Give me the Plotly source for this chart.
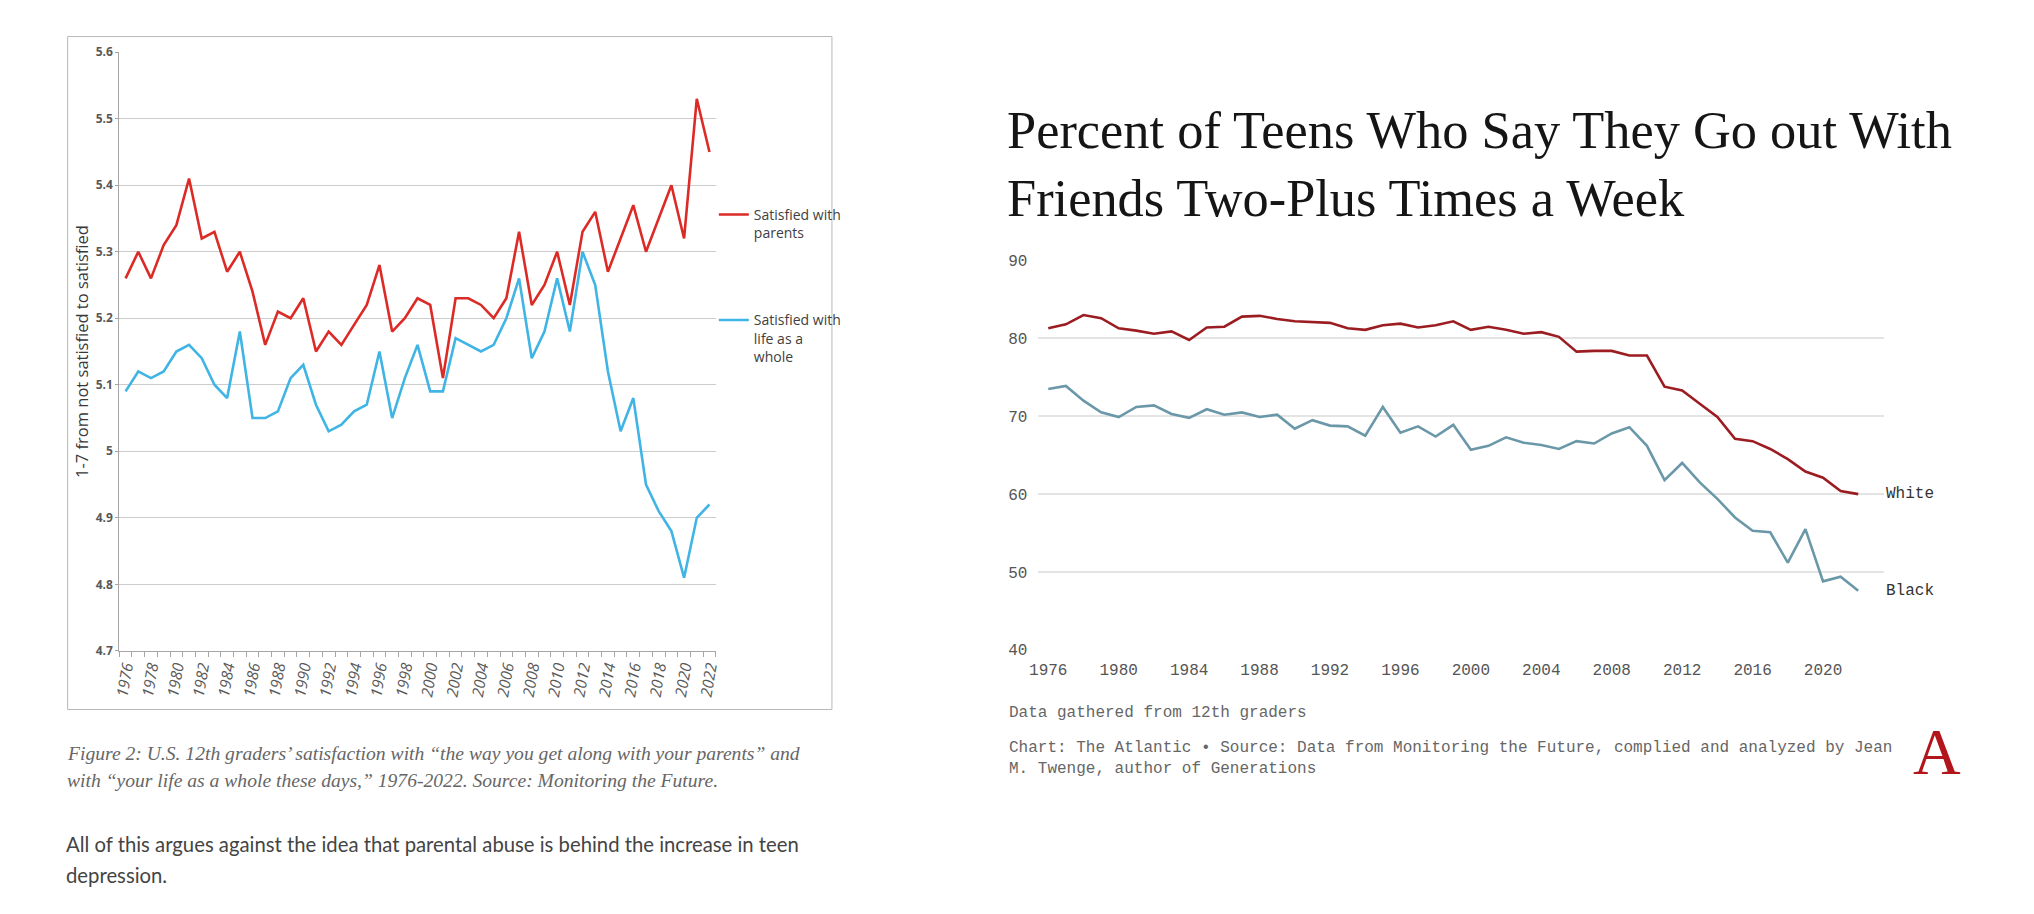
import plotly.graph_objects as go

# left chart: Monitoring the Future satisfaction scores (1-7 scale)
years = list(range(1976, 2023))
satisfied_parents = [
    5.26, 5.30, 5.26, 5.31, 5.34, 5.41, 5.32, 5.33, 5.27, 5.30,
    5.24, 5.16, 5.21, 5.20, 5.23, 5.15, 5.18, 5.16, 5.19, 5.22,
    5.28, 5.18, 5.20, 5.23, 5.22, 5.11, 5.23, 5.23, 5.22, 5.20,
    5.23, 5.33, 5.22, 5.25, 5.30, 5.22, 5.33, 5.36, 5.27, 5.32,
    5.37, 5.30, 5.35, 5.40, 5.32, 5.53, 5.45,
]
satisfied_life = [
    5.09, 5.12, 5.11, 5.12, 5.15, 5.16, 5.14, 5.10, 5.08, 5.18,
    5.05, 5.05, 5.06, 5.11, 5.13, 5.07, 5.03, 5.04, 5.06, 5.07,
    5.15, 5.05, 5.11, 5.16, 5.09, 5.09, 5.17, 5.16, 5.15, 5.16,
    5.20, 5.26, 5.14, 5.18, 5.26, 5.18, 5.30, 5.25, 5.12, 5.03,
    5.08, 4.95, 4.91, 4.88, 4.81, 4.90, 4.92,
]
left_yticks = [4.7, 4.8, 4.9, 5.0, 5.1, 5.2, 5.3, 5.4, 5.5, 5.6]
left_yticktext = ['4.7', '4.8', '4.9', '5', '5.1', '5.2', '5.3', '5.4', '5.5', '5.6']

# right chart: percent going out with friends 2+ times a week
white_pct = [
    81.3, 81.8, 83.0, 82.6, 81.3, 81.0, 80.6, 80.9, 79.8, 81.4,
    81.5, 82.8, 82.9, 82.5, 82.2, 82.1, 82.0, 81.3, 81.1, 81.7,
    81.9, 81.4, 81.7, 82.2, 81.1, 81.5, 81.1, 80.6, 80.8, 80.2,
    78.3, 78.4, 78.4, 77.8, 77.8, 73.8, 73.3, 71.6, 69.9, 67.1,
    66.8, 65.8, 64.5, 62.9, 62.1, 60.4, 60.0,
]
black_pct = [
    73.5, 73.9, 72.0, 70.5, 69.9, 71.2, 71.4, 70.3, 69.8, 70.9,
    70.2, 70.5, 69.9, 70.2, 68.4, 69.5, 68.8, 68.7, 67.5, 71.2,
    67.9, 68.7, 67.4, 68.9, 65.7, 66.2, 67.3, 66.6, 66.3, 65.8,
    66.8, 66.5, 67.8, 68.6, 66.2, 61.8, 64.0, 61.5, 59.4, 57.0,
    55.3, 55.1, 51.2, 55.5, 48.8, 49.4, 47.6,
]
right_xticks = list(range(1976, 2021, 4))
right_yticks = [40, 50, 60, 70, 80, 90]

W, H = 2034, 914


def fx(p):
    return p / W


def fy(p):
    return 1 - p / H


EXCEL_FONT = 'Open Sans'
MONO = 'Liberation Mono'

fig = go.Figure()

fig.add_trace(go.Scatter(
    x=years, y=satisfied_parents, mode='lines', name='Satisfied with<br>parents',
    line=dict(color='#dc2b26', width=2.6), xaxis='x', yaxis='y', legendgroup='a',
))
fig.add_trace(go.Scatter(
    x=years, y=satisfied_life, mode='lines', name='Satisfied with<br>life as a<br>whole',
    line=dict(color='#3fb4e5', width=2.6), xaxis='x', yaxis='y', legendgroup='b',
))
fig.add_trace(go.Scatter(
    x=years, y=white_pct, mode='lines', name='White', showlegend=False,
    line=dict(color='#9c1d21', width=2.6), xaxis='x2', yaxis='y2',
))
fig.add_trace(go.Scatter(
    x=years, y=black_pct, mode='lines', name='Black', showlegend=False,
    line=dict(color='#6b98a9', width=2.6), xaxis='x2', yaxis='y2',
))

annotations = [
    # series labels on the right chart
    dict(x=years[-1], y=white_pct[-1], xref='x2', yref='y2', text='White', showarrow=False,
         xanchor='left', xshift=26, font=dict(family=MONO, size=16, color='#333333')),
    dict(x=years[-1], y=black_pct[-1], xref='x2', yref='y2', text='Black', showarrow=False,
         xanchor='left', xshift=26, font=dict(family=MONO, size=16, color='#333333')),
    # right title
    dict(x=fx(995), y=fy(150), xref='paper', yref='paper', xanchor='left', yanchor='middle',
         align='left', showarrow=False,
         text='Percent of Teens Who Say They Go out With<br>Friends Two-Plus Times a Week',
         font=dict(family='Liberation Serif', size=52.4, color='#151515')),
    # right footer
    dict(x=fx(997), y=fy(712), xref='paper', yref='paper', xanchor='left', yanchor='middle',
         showarrow=False, text='Data gathered from 12th graders',
         font=dict(family=MONO, size=16, color='#666666')),
    dict(x=fx(997), y=fy(736), xref='paper', yref='paper', xanchor='left', yanchor='top',
         align='left', showarrow=False,
         text='Chart: The Atlantic • Source: Data from Monitoring the Future, complied and analyzed by Jean'
              '<br>M. Twenge, author of Generations',
         font=dict(family=MONO, size=16, color='#666666')),
    dict(x=fx(1934), y=fy(751), xref='paper', yref='paper', xanchor='center', yanchor='middle',
         showarrow=False, text='A',
         font=dict(family='Liberation Serif', size=66, color='#b3151c')),
    # left caption and body text
    dict(x=fx(48), y=fy(753), xref='paper', yref='paper', xanchor='left', yanchor='middle',
         showarrow=False,
         text='Figure 2: U.S. 12th graders’ satisfaction with “the way you get along with your parents” and',
         font=dict(family='Liberation Serif', size=19.6, color='#666666', style='italic')),
    dict(x=fx(48), y=fy(781), xref='paper', yref='paper', xanchor='left', yanchor='middle',
         showarrow=False,
         text='with “your life as a whole these days,” 1976-2022. Source: Monitoring the Future.',
         font=dict(family='Liberation Serif', size=19.6, color='#666666', style='italic')),
    dict(x=fx(47), y=fy(846), xref='paper', yref='paper', xanchor='left', yanchor='middle',
         showarrow=False,
         text='All of this argues against the idea that parental abuse is behind the increase in teen',
         font=dict(family='Lato', size=20.3, color='#444444')),
    dict(x=fx(47), y=fy(877), xref='paper', yref='paper', xanchor='left', yanchor='middle',
         showarrow=False, text='depression.',
         font=dict(family='Lato', size=20.3, color='#444444')),
]

fig.update_layout(
    width=W, height=H,
    margin=dict(l=0, r=0, t=0, b=0),
    paper_bgcolor='white', plot_bgcolor='white',
    showlegend=True,
    legend=dict(
        x=fx(702), y=fy(186), xanchor='left', yanchor='top',
        font=dict(family=EXCEL_FONT, size=14, color='#404040'),
        traceorder='grouped', tracegroupgap=66, valign='top',
        itemwidth=30, bgcolor='rgba(0,0,0,0)',
    ),
    xaxis=dict(
        domain=[fx(103), fx(704)], range=[1975.5, 2022.5], anchor='y',
        tickmode='array', tickvals=years[::2], tickangle=-80,
        tickfont=dict(family=EXCEL_FONT, size=15.5, color='#595959', style='italic'),
        ticks='', showgrid=False, zeroline=False,
        showline=True, linecolor='#a6a6a6', linewidth=1,
        minor=dict(tickmode='linear', tick0=1975.5, dtick=1, ticks='outside',
                   ticklen=5, tickcolor='#a6a6a6', showgrid=False),
    ),
    yaxis=dict(
        domain=[fy(648), fy(36)], range=[4.7, 5.6], anchor='x',
        tickmode='array', tickvals=left_yticks, ticktext=left_yticktext,
        tickfont=dict(family=EXCEL_FONT, size=12, color='#595959', weight='bold'),
        ticks='outside', ticklen=3, tickcolor='#a6a6a6',
        showgrid=True, gridcolor='#cccccc', gridwidth=1.3, zeroline=False,
        showline=True, linecolor='#a6a6a6', linewidth=1,
        title=dict(text='1-7 from not satisfied to satisfied', standoff=2,
                   font=dict(family=EXCEL_FONT, size=16.5, color='#383838')),
    ),
    xaxis2=dict(
        domain=[fx(1029), fx(1881)], range=[1975.44, 2023.47], anchor='y2',
        tickmode='array', tickvals=right_xticks,
        tickfont=dict(family=MONO, size=16, color='#555555'),
        ticks='', showgrid=False, zeroline=False, showline=False,
        ticklabelstandoff=8,
    ),
    yaxis2=dict(
        domain=[fy(647), fy(249)], range=[40, 90], anchor='x2',
        tickmode='array', tickvals=right_yticks,
        tickfont=dict(family=MONO, size=16, color='#555555'),
        ticks='', showgrid=True, gridcolor='#e4e4e4', gridwidth=1.5,
        zeroline=False, showline=False, ticklabelstandoff=10,
    ),
    annotations=annotations,
    shapes=[
        dict(type='rect', xref='paper', yref='paper',
             x0=fx(51), x1=fx(821), y0=fy(708), y1=fy(20),
             line=dict(color='#b8b8b8', width=1), fillcolor='rgba(0,0,0,0)', layer='below'),
    ],
)

fig.write_html('out.html')
